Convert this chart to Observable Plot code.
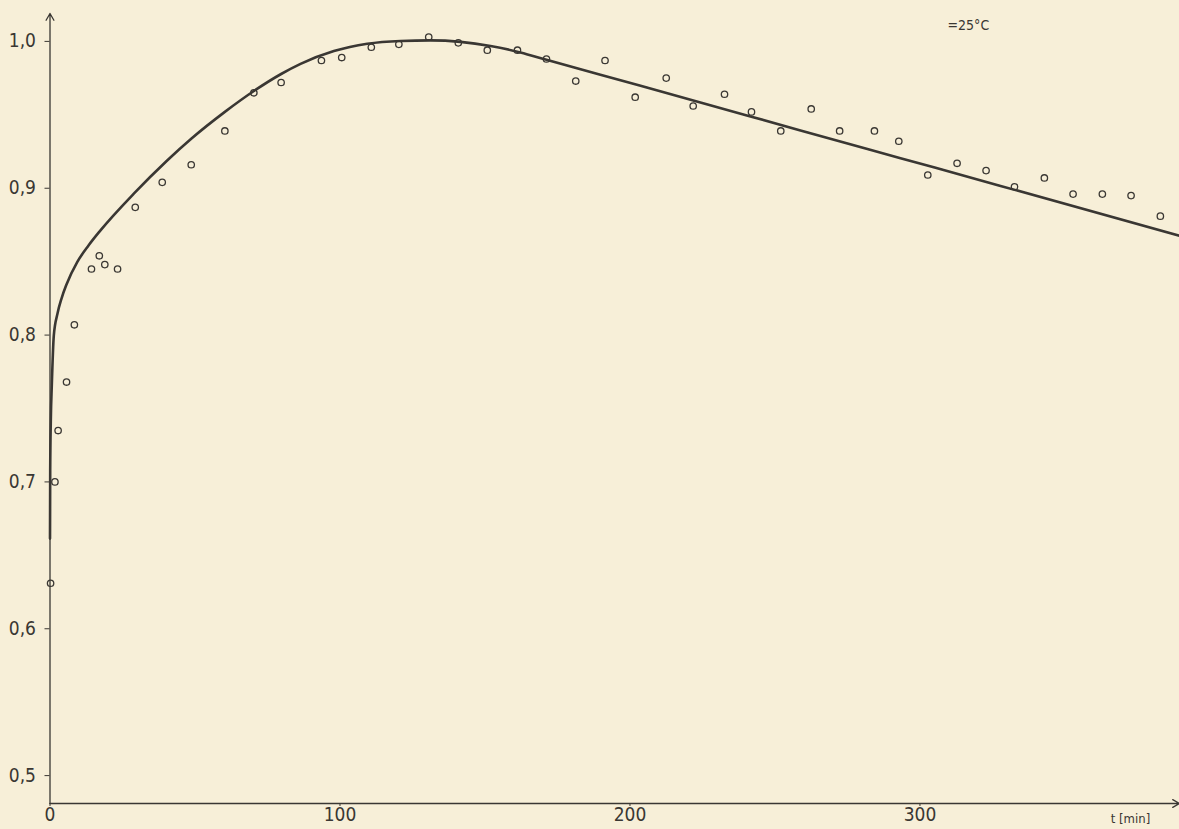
<!DOCTYPE html>
<html>
<head>
<meta charset="utf-8">
<script src="https://cdn.jsdelivr.net/npm/d3@7"></script>
<script src="https://cdn.jsdelivr.net/npm/@observablehq/plot@0.6"></script>
<style>
html, body { margin: 0; padding: 0; background: #f7efd8; }
#chart svg { display: block; }
</style>
</head>
<body>
<div id="chart"></div>
<script>
// Measured points (t in min, relative value)
const pointT = [0.2, 1.7, 2.8, 5.7, 8.4, 14.3, 17.0, 18.9, 23.3, 29.4, 38.7, 48.7, 60.3, 70.3, 79.7,
  93.6, 100.6, 110.8, 120.3, 130.6, 140.8, 150.8, 161.2, 171.2, 181.3, 191.4, 201.8, 212.5, 221.8,
  232.6, 241.9, 252.0, 262.5, 272.3, 284.3, 292.7, 302.7, 312.8, 322.8, 332.6, 342.9, 352.8, 362.9,
  372.8, 382.9];
const pointV = [0.631, 0.700, 0.735, 0.768, 0.807, 0.845, 0.854, 0.848, 0.845, 0.887, 0.904, 0.916,
  0.939, 0.965, 0.972, 0.987, 0.989, 0.996, 0.998, 1.003, 0.999, 0.994, 0.994, 0.988, 0.973, 0.987,
  0.962, 0.975, 0.956, 0.964, 0.952, 0.939, 0.954, 0.939, 0.939, 0.932, 0.909, 0.917, 0.912, 0.901,
  0.907, 0.896, 0.896, 0.895, 0.881];

// Fitted curve
const curveT = [0, 0.07, 0.28, 0.62, 1.31, 2.59, 3.97, 5.69, 9.38, 13.28, 17.41, 28.9, 40.4, 48.7,
  60.3, 70.3, 79.7, 86.4, 97.9, 109.4, 120.9, 131.2, 141.6, 151.9, 162.2, 171.2, 189.8, 224.3, 258.8,
  293.3, 327.8, 389.5];
const curveV = [0.6614, 0.7078, 0.7418, 0.7657, 0.7997, 0.8147, 0.8249, 0.8345, 0.8497, 0.8610,
  0.8713, 0.8963, 0.9189, 0.9337, 0.9520, 0.9662, 0.9778, 0.9847, 0.9934, 0.9984, 1.0003, 1.0007,
  0.9997, 0.9969, 0.9925, 0.9875, 0.9773, 0.9584, 0.9394, 0.9205, 0.9016, 0.8676];

const xTicks = [0, 100, 200, 300];
const yTicks = [0.5, 0.6, 0.7, 0.8, 0.9, 1.0];
const xDomain = [0, 389.5];
const yDomain = [0.481, 1.019];

const tempLabel = "=25°C";
const tempLabelT = 309.5;
const tempLabelV = 1.011;
const xLabel = "t [min]";
const xLabelT = 372.6;

const points = pointT.map((t, i) => ({t, v: pointV[i]}));
const curve = curveT.map((t, i) => ({t, v: curveV[i]}));
const axes = [
  {x1: xDomain[0], y1: yDomain[0], x2: xDomain[0], y2: yDomain[1]},
  {x1: xDomain[0], y1: yDomain[0], x2: xDomain[1], y2: yDomain[0]}
];

const ink = "#3a3733";
const font = "'Liberation Sans Narrow', 'DejaVu Sans Condensed', 'Roboto', sans-serif";
const fmt = d => d.toFixed(1).replace(".", ",");

const chart = Plot.plot({
  width: 1179,
  height: 829,
  marginLeft: 49.5,
  marginRight: 0,
  marginTop: 13,
  marginBottom: 26,
  style: {background: "transparent", fontFamily: font, color: ink, overflow: "visible"},
  x: {domain: xDomain},
  y: {domain: yDomain},
  marks: [
    Plot.axisY(yTicks, {tickSize: 5, tickPadding: 9, tickFormat: fmt, fontSize: 19, label: null, stroke: ink, fill: ink}),
    Plot.axisX(xTicks, {tickSize: 3, tickPadding: 1, fontSize: 19, label: null, stroke: ink, fill: ink}),
    Plot.arrow(axes, {x1: "x1", y1: "y1", x2: "x2", y2: "y2", stroke: ink, strokeWidth: 1.3, headLength: 9}),
    Plot.line(curve, {x: "t", y: "v", curve: "monotone-x", stroke: ink, strokeWidth: 2.6}),
    Plot.dot(points, {x: "t", y: "v", r: 3.2, stroke: ink, strokeWidth: 1.3, fill: "none"}),
    Plot.text([tempLabel], {x: tempLabelT, y: tempLabelV, text: d => d, textAnchor: "start", fontSize: 14, fill: ink}),
    Plot.text([xLabel], {x: xLabelT, y: yDomain[0], dy: 15, text: d => d, fontSize: 13, fill: ink})
  ]
});
document.getElementById("chart").appendChild(chart);
</script>
</body>
</html>
